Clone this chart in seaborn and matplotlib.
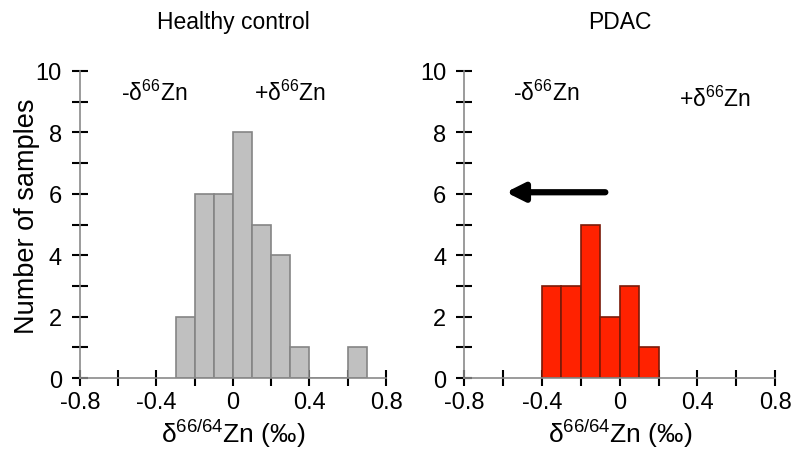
import numpy as np
import seaborn as sns
import matplotlib.pyplot as plt

# Histogram bins (width 0.1 permil) and counts
healthy_edges = [-0.3, -0.2, -0.1, 0.0, 0.1, 0.2, 0.3, 0.4, 0.5, 0.6, 0.7]
healthy_counts = [2, 6, 6, 8, 5, 4, 1, 0, 0, 1]

pdac_edges = [-0.4, -0.3, -0.2, -0.1, 0.0, 0.1, 0.2]
pdac_counts = [3, 3, 5, 2, 3, 1]

x_ticks = [-0.8, -0.6, -0.4, -0.2, 0.0, 0.2, 0.4, 0.6, 0.8]
x_labels = ["-0.8", "", "-0.4", "", "0", "", "0.4", "", "0.8"]
y_ticks = list(range(0, 11))
y_labels = [str(v) if v % 2 == 0 else "" for v in y_ticks]

sns.set_style("ticks")
plt.rcParams["font.family"] = ["Liberation Sans", "DejaVu Sans"]
plt.rcParams["mathtext.fontset"] = "custom"
plt.rcParams["mathtext.rm"] = "Liberation Sans"
plt.rcParams["mathtext.it"] = "Liberation Sans:italic"
plt.rcParams["text.color"] = "black"
plt.rcParams["axes.labelcolor"] = "black"
plt.rcParams["xtick.labelcolor"] = "black"
plt.rcParams["ytick.labelcolor"] = "black"

fig = plt.figure(figsize=(7.91, 4.64), dpi=100)
ax1 = fig.add_axes([0.101, 0.183, 0.387, 0.662])
ax2 = fig.add_axes([0.587, 0.183, 0.393, 0.662])


def draw_panel(ax, edges, counts, fill, edge):
	centers = (np.array(edges[:-1]) + np.array(edges[1:])) / 2
	sns.histplot(x=centers, weights=counts, bins=edges, ax=ax,
				 color=fill, edgecolor=edge, linewidth=1.2, alpha=1)
	ax.set_xlim(-0.8, 0.8)
	ax.set_ylim(0, 10)
	ax.set_xticks(x_ticks)
	ax.set_xticklabels(x_labels, fontsize=17)
	ax.set_yticks(y_ticks)
	ax.set_yticklabels(y_labels, fontsize=17)
	ax.tick_params(direction="inout", length=12, width=1.5, color="black")
	ax.tick_params(axis="y", pad=7)
	ax.tick_params(axis="x", pad=3)
	for side in ["top", "right"]:
		ax.spines[side].set_visible(False)
	for side in ["left", "bottom"]:
		ax.spines[side].set_color("#8a8a8a")
		ax.spines[side].set_linewidth(1.2)
	ax.set_xlabel(r"$\mathrm{\delta}^{66/64}$Zn (‰)", fontsize=19, labelpad=3)
	ax.set_ylabel("")


draw_panel(ax1, healthy_edges, healthy_counts, "#c0c0c0", "#858585")
draw_panel(ax2, pdac_edges, pdac_counts, "#ff2200", "#7a1a08")

ax1.set_ylabel("Number of samples", fontsize=19.5)
ax1.yaxis.set_label_coords(-0.13, 0.53)
ax1.set_title("Healthy control", fontsize=16.5, pad=31)
ax2.set_title("PDAC", fontsize=16.5, pad=31)

ax1.text(-0.41, 9.3, r"-$\mathrm{\delta}^{66}$Zn", fontsize=16.5, ha="center", va="center")
ax1.text(0.30, 9.3, r"+$\mathrm{\delta}^{66}$Zn", fontsize=16.5, ha="center", va="center")
ax2.text(-0.38, 9.3, r"-$\mathrm{\delta}^{66}$Zn", fontsize=16.5, ha="center", va="center")
ax2.text(0.49, 9.1, r"+$\mathrm{\delta}^{66}$Zn", fontsize=16.5, ha="center", va="center")

ax2.annotate("", xy=(-0.6, 6.05), xytext=(-0.06, 6.05),
			 arrowprops=dict(arrowstyle="-|>", lw=4.5, color="black", mutation_scale=27))

plt.savefig("out.png", dpi=100)
plt.close()
